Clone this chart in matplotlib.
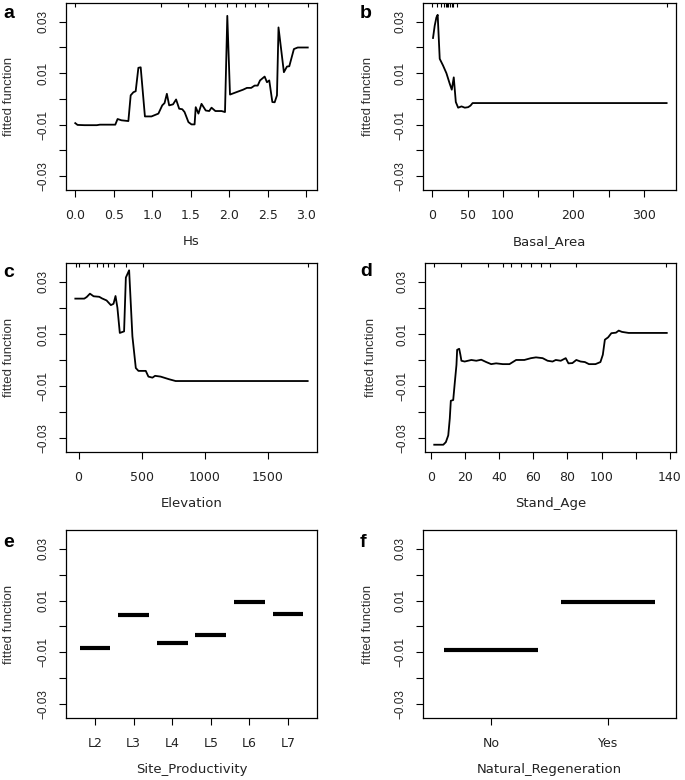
import numpy as np
import matplotlib
matplotlib.use("Agg")
import matplotlib.pyplot as plt

# ---- data ----
hs_x = [0.00, 0.03, 0.12, 0.28, 0.32, 0.52, 0.55, 0.60, 0.69, 0.72,
        0.755, 0.785, 0.82, 0.85, 0.905, 0.99, 1.08, 1.13, 1.16, 1.19,
        1.22, 1.27, 1.31, 1.35, 1.39, 1.42, 1.47, 1.51, 1.55, 1.565,
        1.60, 1.64, 1.695, 1.74, 1.77, 1.82, 1.90, 1.945, 1.975, 2.01,
        2.09, 2.18, 2.23, 2.285, 2.33, 2.37, 2.40, 2.46, 2.49, 2.52,
        2.56, 2.59, 2.62, 2.64, 2.71, 2.75, 2.78, 2.84, 2.89, 3.02]
hs_y = [-0.0094, -0.0101, -0.0102, -0.0102, -0.0100, -0.0100, -0.0078, -0.0083, -0.0086, 0.0014,
        0.0026, 0.0030, 0.0121, 0.0123, -0.0068, -0.0068, -0.0057, -0.0025, -0.0016, 0.0020,
        -0.0025, -0.0021, -0.0002, -0.0038, -0.0040, -0.0051, -0.0090, -0.0099, -0.0099, -0.0032,
        -0.0057, -0.0019, -0.0045, -0.0047, -0.0034, -0.0047, -0.0047, -0.0051, 0.0323, 0.0017,
        0.0026, 0.0036, 0.0043, 0.0043, 0.0052, 0.0052, 0.0072, 0.0087, 0.0065, 0.0072,
        -0.0012, -0.0013, 0.0014, 0.0278, 0.0104, 0.0126, 0.0127, 0.0194, 0.0200, 0.0200]
hs_rug = [0.0, 1.12, 1.47, 1.68, 1.82, 1.97, 2.09, 2.21, 2.33, 2.50, 3.02]

ba_x = [0.9, 3.3, 5.7, 7.5, 10.4, 15.1, 19.9, 24.6, 27.5, 30.3,
        33.2, 36.5, 41.3, 46.0, 50.7, 54.0, 57.0, 332.0]
ba_y = [0.0237, 0.0285, 0.0317, 0.0327, 0.0156, 0.0130, 0.0100, 0.0059, 0.0036, 0.0084,
        -0.0012, -0.0034, -0.0029, -0.0034, -0.0032, -0.0026, -0.0016, -0.0016]
ba_rug = [0, 6.6, 12.8, 16.1, 19.0, 20.9, 22.8, 24.7, 27.1, 29.5, 35.2, 332]

el_x = [-26, 45, 64, 90, 119, 164, 185, 222, 256, 277,
        293, 308, 327, 361, 375, 401, 427, 454, 475, 533,
        554, 586, 607, 651, 717, 770, 1818]
el_y = [0.0236, 0.0236, 0.0242, 0.0255, 0.0245, 0.0243, 0.0237, 0.0229, 0.0211, 0.0216,
        0.0246, 0.0201, 0.0104, 0.0110, 0.0317, 0.0345, 0.0091, -0.0031, -0.0042, -0.0042,
        -0.0064, -0.0068, -0.0061, -0.0064, -0.0074, -0.0081, -0.0081]
el_rug = [-20, 0, 85, 143, 190, 237, 282, 374, 511, 1818]

sa_x = [2.1, 7.4, 8.9, 10.3, 11.2, 11.8, 13.2, 14.1, 15.1, 15.5,
        16.7, 17.4, 18.0, 19.9, 23.8, 26.7, 29.6, 32.5, 35.4, 38.3,
        42.2, 46.1, 50.0, 54.8, 58.7, 61.6, 65.5, 68.4, 71.3, 73.2,
        76.1, 79.0, 80.6, 82.9, 85.2, 87.7, 90.2, 92.6, 96.4, 99.3,
        100.7, 101.9, 103.8, 105.7, 108.4, 110.0, 111.9, 115.8, 138.1]
sa_y = [-0.0326, -0.0326, -0.0316, -0.0290, -0.0225, -0.0157, -0.0154, -0.0089, -0.0019, 0.0039,
        0.0043, 0.0020, -0.0003, -0.0006, 0.0000, -0.0003, 0.0001, -0.0008, -0.0016, -0.0013,
        -0.0016, -0.0016, 0.0000, 0.0000, 0.0007, 0.0010, 0.0007, -0.0003, -0.0006, 0.0000,
        -0.0003, 0.0007, -0.0013, -0.0012, 0.0000, -0.0006, -0.0008, -0.0016, -0.0016, -0.0008,
        0.0020, 0.0078, 0.0087, 0.0103, 0.0105, 0.0113, 0.0108, 0.0104, 0.0104]
sa_rug = [2.1, 18, 33.5, 42.2, 47.1, 52.9, 58.7, 64.5, 69.7, 84.8, 137.7]

sp_levels = ['L2', 'L3', 'L4', 'L5', 'L6', 'L7']
sp_vals = [-0.0084, 0.0046, -0.0065, -0.0034, 0.0094, 0.0048]

nr_levels = ['No', 'Yes']
nr_vals = [-0.0091, 0.0094]

y_ticks = [-0.03, -0.02, -0.01, 0.0, 0.01, 0.02, 0.03]
y_labels = ['\u22120.03', '', '\u22120.01', '', '0.01', '', '0.03']

W, H = 685, 780
fig = plt.figure(figsize=(W / 100, H / 100), dpi=100)


def add_ax(l, t, r, b):
    # pixel box -> figure fraction
    return fig.add_axes([l / W, 1 - b / H, (r - l) / W, (b - t) / H])


def style(ax, xlabel, letter, lx, ly, ylab_x):
    ax.set_ylim(-0.0354, 0.0373)
    ax.set_yticks(y_ticks)
    ax.set_yticklabels(y_labels, rotation=90, va='center',
                       fontfamily='Liberation Sans', fontsize=8.5, color='#222222')
    for lab in ax.get_xticklabels():
        lab.set_fontfamily('DejaVu Sans')
        lab.set_fontsize(9)
        lab.set_color('#222222')
    ax.tick_params(axis='y', length=5, width=0.8, pad=7)
    ax.tick_params(axis='x', length=5, width=0.8, pad=9)
    for s in ax.spines.values():
        s.set_linewidth(0.9)
    ax.set_ylabel('fitted function', fontfamily='Liberation Sans', fontsize=9.5, color='#333333')
    ax.yaxis.set_label_coords(ylab_x, 0.5)
    ax.set_xlabel(xlabel, fontfamily='DejaVu Sans', fontsize=9.5, color='#222222')
    ax.xaxis.set_label_coords(0.5, -0.24)
    fig.text(lx / W, 1 - ly / H, letter, fontfamily='Liberation Sans', fontweight='bold',
             fontsize=14, ha='left', va='baseline')


def rug(ax, vals):
    ax.vlines(vals, 0.978, 1.0, transform=ax.get_xaxis_transform(), color='black', lw=0.8)


# a: Hs
ax = add_ax(66, 3, 317, 190)
ax.plot(hs_x, hs_y, color='black', lw=1.3)
rug(ax, hs_rug)
ax.set_xlim(-0.12, 3.14)
ax.set_xticks([0.0, 0.5, 1.0, 1.5, 2.0, 2.5, 3.0])
ax.set_xticklabels(['0.0', '0.5', '1.0', '1.5', '2.0', '2.5', '3.0'])
style(ax, 'Hs', 'a', 3, 18, -0.205)

# b: Basal_Area
ax = add_ax(423, 3, 676, 190)
ax.plot(ba_x, ba_y, color='black', lw=1.3)
rug(ax, ba_rug)
ax.set_xlim(-13.3, 345.3)
ax.set_xticks([0, 50, 100, 150, 200, 250, 300])
ax.set_xticklabels(['0', '50', '100', '', '200', '', '300'])
style(ax, 'Basal_Area', 'b', 360, 18, -0.192)

# c: Elevation
ax = add_ax(66, 263, 317, 452)
ax.plot(el_x, el_y, color='black', lw=1.3)
rug(ax, el_rug)
ax.set_xlim(-100, 1892)
ax.set_xticks([0, 500, 1000, 1500])
ax.set_xticklabels(['0', '500', '1000', '1500'])
style(ax, 'Elevation', 'c', 3, 277, -0.205)

# d: Stand_Age
ax = add_ax(425, 263, 676, 452)
ax.plot(sa_x, sa_y, color='black', lw=1.3)
rug(ax, sa_rug)
ax.set_xlim(-3.3, 143.5)
ax.set_xticks([0, 20, 40, 60, 80, 100, 120, 140])
ax.set_xticklabels(['0', '20', '40', '60', '80', '100', '', '140'])
style(ax, 'Stand_Age', 'd', 360, 276, -0.192)

# e: Site_Productivity
ax = add_ax(66, 530, 317, 718)
pos = np.arange(len(sp_levels))
ax.hlines(sp_vals, pos - 0.4, pos + 0.4, color='black', lw=3)
ax.set_xlim(-0.75, len(sp_levels) - 0.25)
ax.set_xticks(pos)
ax.set_xticklabels(sp_levels)
style(ax, 'Site_Productivity', 'e', 3, 547, -0.205)

# f: Natural_Regeneration
ax = add_ax(423, 530, 676, 718)
pos = np.arange(len(nr_levels))
ax.hlines(nr_vals, pos - 0.4, pos + 0.4, color='black', lw=3)
ax.set_xlim(-0.577, len(nr_levels) - 0.423)
ax.set_xticks(pos)
ax.set_xticklabels(nr_levels)
style(ax, 'Natural_Regeneration', 'f', 360, 547, -0.192)

fig.savefig('out.png', dpi=100)
